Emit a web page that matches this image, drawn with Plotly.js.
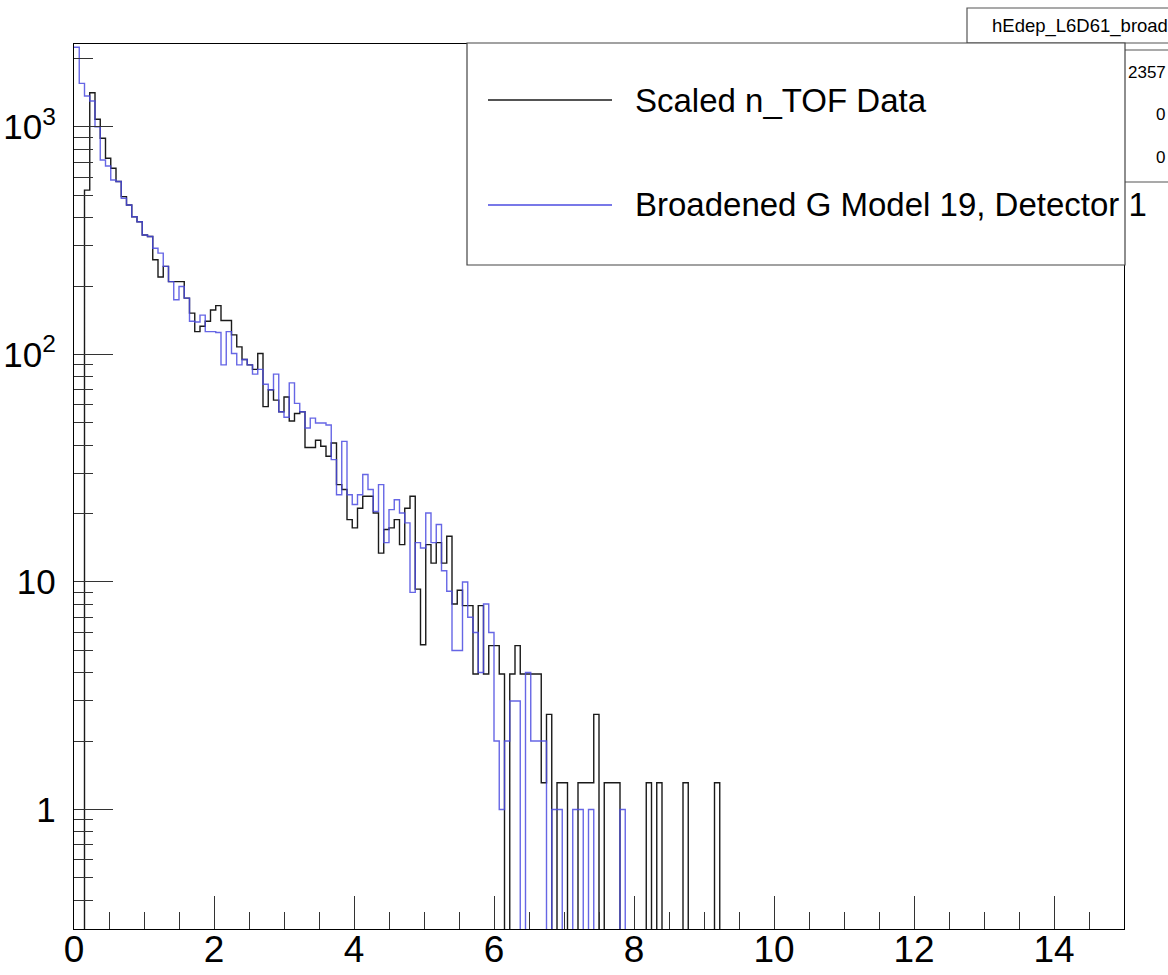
<!DOCTYPE html>
<html><head><meta charset="utf-8">
<script src="https://cdn.plot.ly/plotly-3.0.1.min.js"></script>
<style>html,body{margin:0;padding:0;background:#fff;overflow:hidden}</style>
</head><body>
<div id="chart" style="width:1168px;height:975px"></div>
<script>
// ---- data (histogram, 200 bins of width 0.075 from 0 to 15; only non-empty range listed) ----
const binWidth = 0.075;
const seriesNames = ['Scaled n_TOF Data', 'Broadened G Model 19, Detector 1'];
const dataCounts = [
  0, 0, 528, 1415, 1081, 892, 729, 659, 576, 494,
  454, 403, 383, 335, 330, 261, 219, 244, 209, 209,
  209, 177, 152, 126, 133, 140, 157, 164, 141, 141,
  122, 108, 95, 90, 86, 101, 59, 70, 63, 56,
  65, 51, 55, 56, 39, 39, 42, 39.5, 35.7, 40.8,
  26.8, 25.5, 18.8, 17.3, 21.1, 23.8, 23.8, 20.1, 13.4, 17.0,
  17.3, 18.8, 14.6, 21.1, 23.8, 9.3, 5.3, 14.6, 12.1, 14.9,
  12.1, 15.9, 8.0, 9.2, 7.87, 7.87, 3.94, 7.87, 3.94, 5.25,
  5.25, 3.94, 0, 3.94, 5.25, 3.94, 3.94, 3.94, 3.94, 1.31,
  2.62, 0, 1.31, 1.31, 0, 0, 1.31, 1.31, 1.31, 2.62,
  0, 1.31, 1.31, 1.31, 0, 0, 0, 0, 0, 1.31,
  0, 1.31, 0, 0, 0, 0, 1.31, 0, 0, 0,
  0, 0, 1.31
];
const modelCounts = [
  2240, 1555, 1368, 1300, 1003, 716, 674, 585, 576, 486,
  454, 403, 383, 335, 330, 293, 279, 244, 209, 174,
  199, 177, 140, 139, 149, 126, 126, 125, 90, 126,
  101, 90, 95, 90, 82, 86, 74, 70, 82, 56,
  53, 75, 61, 56, 47.5, 52.5, 50, 50, 49, 34.5,
  24.2, 41.5, 24.2, 21.9, 24.2, 29.7, 25.5, 20.4, 26.8, 14.9,
  20.8, 23.0, 20.1, 18.2, 9.0, 14.9, 14.1, 20.1, 14.9, 17.9,
  11.2, 9.1, 5, 5, 10, 7, 6, 4, 8, 6,
  2, 1, 2, 3, 3, 0, 4, 2, 2, 2,
  0, 1, 1, 0, 0, 1, 1, 0, 1, 0,
  0, 0, 0, 0, 1
];
const xRange = [0, 15];
const xTickVals = [0, 2, 4, 6, 8, 10, 12, 14];
const xTickText = ['0', '2', '4', '6', '8', '10', '12', '14'];
const yTickVals = [1, 10, 100, 1000];
const yTickText = ['1', '10', '10<sup>2</sup>', '10<sup>3</sup>'];
const yLogRange = [-0.5253, 3.3648];
const statsTitle = 'hEdep_L6D61_broad';
const statsValues = ['2357', '0', '0'];

// ---- helpers ----
const FLOOR = 1e-3; // empty bins drop below the axis (log scale)
function stepXY(vals) {
  const x = [], y = [];
  for (let i = 0; i < vals.length; i++) {
    x.push(i * binWidth);
    y.push(vals[i] > 0 ? vals[i] : FLOOR);
  }
  x.push(vals.length * binWidth);
  y.push(FLOOR);
  return {x, y};
}
const L = 74, R = 44, T = 44, B = 46, W = 1168, H = 975;
const PW = W - L - R, PH = H - T - B;
const px = v => (v - L) / PW;
const py = v => (H - B - v) / PH;

const yMinor = [];
for (let d = -1; d <= 3; d++) for (let m = 2; m <= 9; m++) {
  const v = m * Math.pow(10, d);
  if (Math.log10(v) > yLogRange[0] && Math.log10(v) < yLogRange[1]) yMinor.push(v);
}

const black = '#1a1a1a', blue = '#4b4be0';
const s1 = stepXY(dataCounts), s2 = stepXY(modelCounts);
const traces = [
  {x: s1.x, y: s1.y, type: 'scatter', mode: 'lines', name: seriesNames[0],
   line: {shape: 'hv', color: black, width: 1.4}, hoverinfo: 'skip'},
  {x: s2.x, y: s2.y, type: 'scatter', mode: 'lines', name: seriesNames[1],
   line: {shape: 'hv', color: blue, width: 1.4}, opacity: 0.85, hoverinfo: 'skip'}
];

const font = 'Liberation Sans, Arial, Helvetica, sans-serif';
const shapes = [
  // stats / title boxes (partly off the page, as in the reference)
  {type: 'rect', xref: 'paper', yref: 'paper', x0: px(967), x1: px(1200), y0: py(43), y1: py(8),
   line: {color: '#555', width: 1.2}, fillcolor: '#fff', layer: 'above'},
  {type: 'rect', xref: 'paper', yref: 'paper', x0: px(900), x1: px(1200), y0: py(182), y1: py(50),
   line: {color: '#555', width: 1.2}, fillcolor: '#fff', layer: 'above'},
  // legend box
  {type: 'rect', xref: 'paper', yref: 'paper', x0: px(467), x1: px(1125), y0: py(265), y1: py(43),
   line: {color: '#444', width: 1.2}, fillcolor: '#fff', layer: 'above'},
  {type: 'line', xref: 'paper', yref: 'paper', x0: px(488), x1: px(612), y0: py(100), y1: py(100),
   line: {color: black, width: 1.4}, layer: 'above'},
  {type: 'line', xref: 'paper', yref: 'paper', x0: px(488), x1: px(612), y0: py(205), y1: py(205),
   line: {color: blue, width: 1.4}, layer: 'above'}
];
const annotations = [
  {xref: 'paper', yref: 'paper', x: px(633), y: py(100), xanchor: 'left', yanchor: 'middle',
   text: seriesNames[0], showarrow: false, font: {family: font, size: 33, color: '#000'}},
  {xref: 'paper', yref: 'paper', x: px(633), y: py(205), xanchor: 'left', yanchor: 'middle',
   text: seriesNames[1], showarrow: false, font: {family: font, size: 33, color: '#000'}},
  {xref: 'paper', yref: 'paper', x: px(990), y: py(26), xanchor: 'left', yanchor: 'middle',
   text: statsTitle, showarrow: false, font: {family: font, size: 18.5, color: '#000'}},
  {xref: 'paper', yref: 'paper', x: px(1126), y: py(72), xanchor: 'left', yanchor: 'middle',
   text: statsValues[0], showarrow: false, font: {family: font, size: 17, color: '#000'}},
  {xref: 'paper', yref: 'paper', x: px(1154), y: py(114), xanchor: 'left', yanchor: 'middle',
   text: statsValues[1], showarrow: false, font: {family: font, size: 17, color: '#000'}},
  {xref: 'paper', yref: 'paper', x: px(1154), y: py(157), xanchor: 'left', yanchor: 'middle',
   text: statsValues[2], showarrow: false, font: {family: font, size: 17, color: '#000'}}
];

const layout = {
  width: W, height: H,
  margin: {l: L, r: R, t: T, b: B, pad: 0},
  paper_bgcolor: '#fff', plot_bgcolor: '#fff',
  showlegend: false,
  font: {family: font, color: '#000'},
  xaxis: {
    range: xRange, showgrid: false, zeroline: false,
    showline: true, mirror: true, linecolor: '#000', linewidth: 1.2,
    tickmode: 'array', tickvals: xTickVals, ticktext: xTickText,
    ticks: 'inside', ticklen: 33, tickwidth: 1, tickcolor: '#333',
    tickfont: {family: font, size: 37, color: '#000'},
    ticklabelstandoff: -13,
    minor: {tickmode: 'linear', tick0: 0, dtick: 0.5, ticks: 'inside', ticklen: 17, tickwidth: 1, tickcolor: '#333', showgrid: false}
  },
  yaxis: {
    type: 'log', range: yLogRange, showgrid: false, zeroline: false,
    showline: true, mirror: true, linecolor: '#000', linewidth: 1.2,
    tickmode: 'array', tickvals: yTickVals, ticktext: yTickText,
    ticks: 'inside', ticklen: 39, tickwidth: 1, tickcolor: '#333',
    tickfont: {family: font, size: 35, color: '#000'},
    ticklabelstandoff: 10,
    minor: {tickmode: 'array', tickvals: yMinor, ticks: 'inside', ticklen: 19, tickwidth: 1, tickcolor: '#333', showgrid: false}
  },
  shapes: shapes,
  annotations: annotations
};

Plotly.newPlot('chart', traces, layout, {staticPlot: true, displayModeBar: false});
</script>
</body></html>
